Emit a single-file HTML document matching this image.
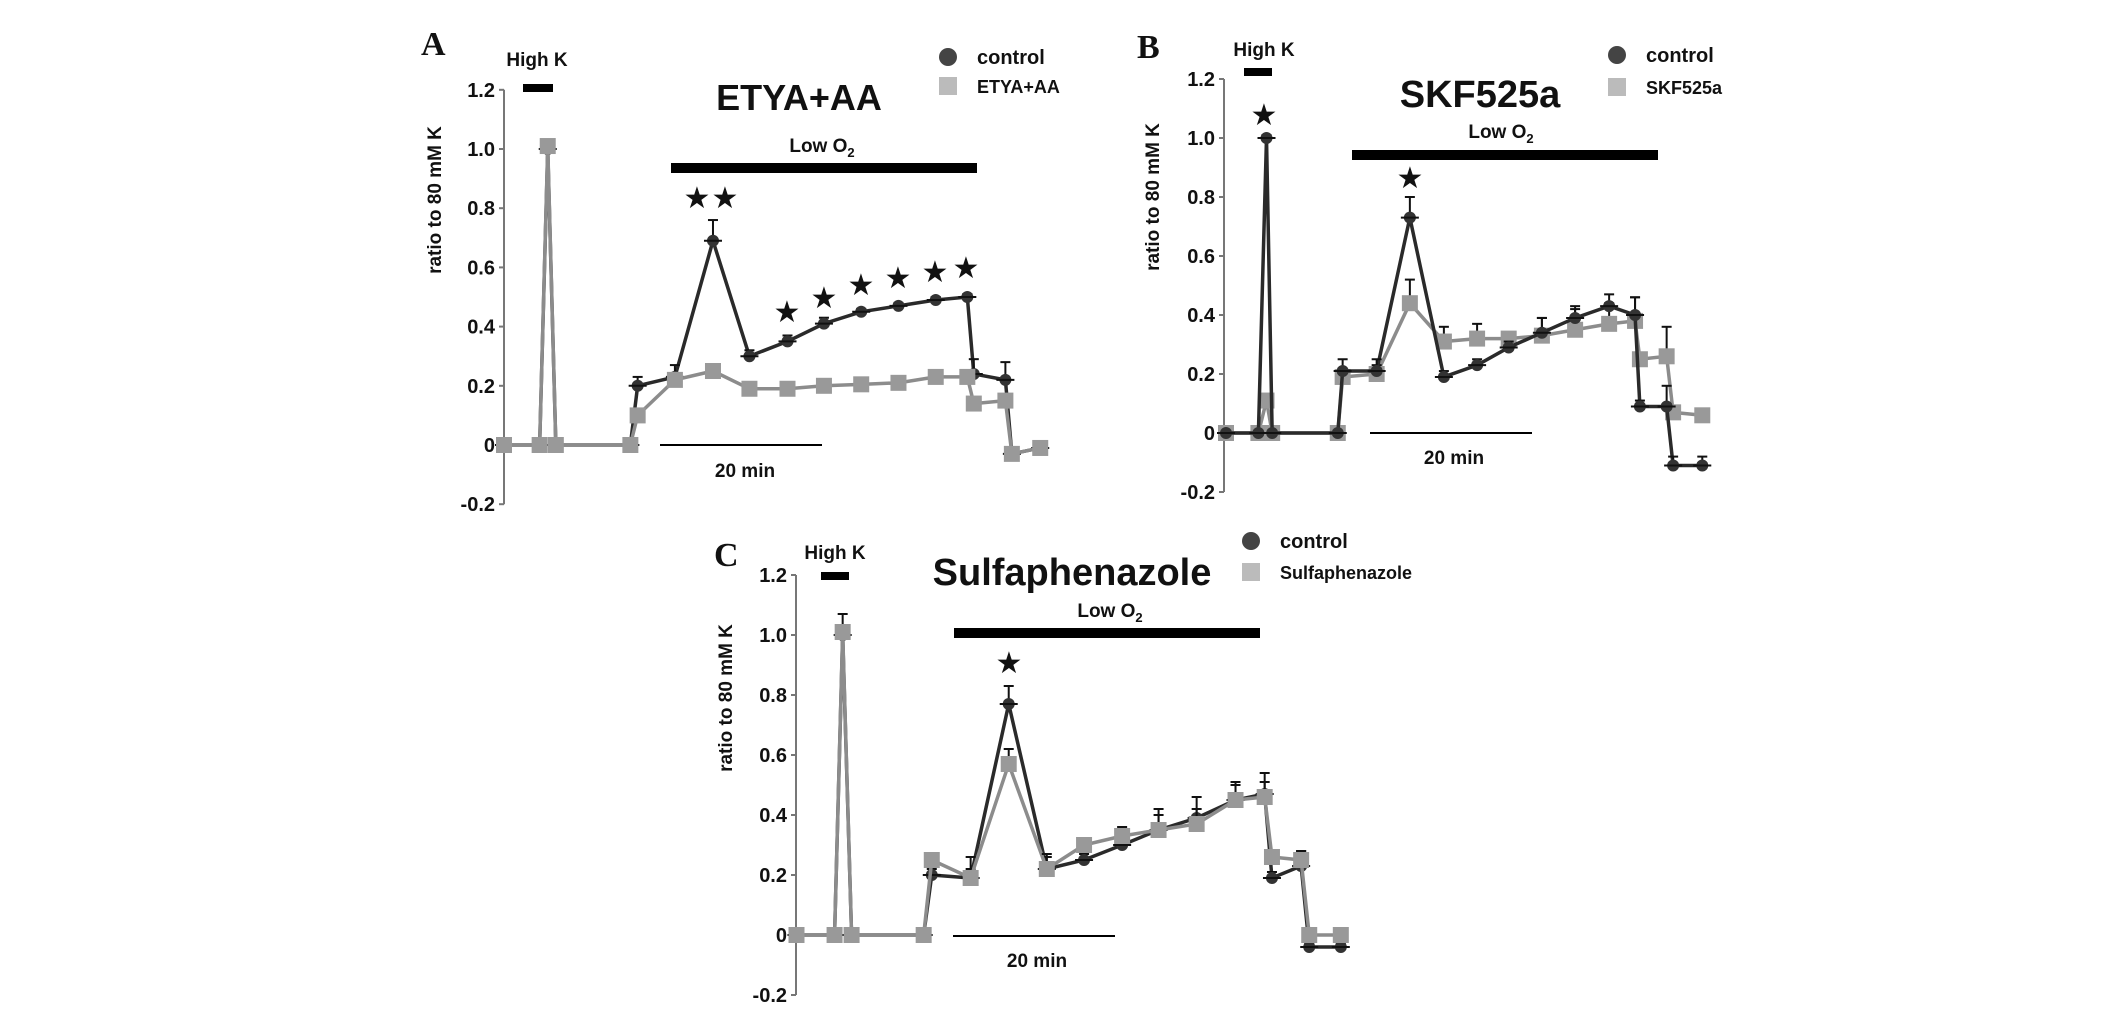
<!DOCTYPE html>
<html><head><meta charset="utf-8"><style>
html,body{margin:0;padding:0;background:#fff;overflow:hidden;}
svg{display:block;}
text{font-family:"Liberation Sans Narrow","Liberation Sans",sans-serif;font-weight:bold;fill:#111;}
</style></head><body>
<svg id="fig" width="2126" height="1010" viewBox="0 0 2126 1010" xmlns="http://www.w3.org/2000/svg"></svg>
<script>
const yTicks = [1.2, 1.0, 0.8, 0.6, 0.4, 0.2, 0, -0.2];
const yTickLabels = ["1.2","1.0","0.8","0.6","0.4","0.2","0","-0.2"];
const timeA = [0,4.4,5.4,6.4,15.6,16.5,21.1,25.8,30.3,35,39.5,44.1,48.7,53.3,57.2,58,61.9,62.7,66.2];
const controlA = [0,0,1.0,0,0,0.20,0.23,0.69,0.30,0.35,0.41,0.45,0.47,0.49,0.50,0.24,0.22,-0.03,-0.01];
const drugA = [0,0,1.01,0,0,0.10,0.22,0.25,0.19,0.19,0.20,0.205,0.21,0.23,0.23,0.14,0.15,-0.03,-0.01];
const errCtrlA = [0,0,0.02,0,0,0.03,0.04,0.07,0.02,0.02,0.02,0.01,0.01,0.01,0.01,0.05,0.06,0.01,0.02];
const timeB = [0,4,5,5.7,13.8,14.4,18.6,22.7,26.9,31,34.9,39,43.1,47.3,50.5,51.1,54.4,55.2,58.8];
const controlB = [0,0,1.0,0,0,0.21,0.21,0.73,0.19,0.23,0.29,0.34,0.39,0.43,0.40,0.09,0.09,-0.11,-0.11];
const drugB = [0,0,0.11,0,0,0.19,0.20,0.44,0.31,0.32,0.32,0.33,0.35,0.37,0.38,0.25,0.26,0.07,0.06];
const errCtrlB = [0,0,0.01,0,0,0.04,0.04,0.07,0.02,0.02,0.02,0.05,0.04,0.04,0.06,0.02,0.07,0.03,0.03];
const errDrugB = [0,0,0.02,0,0,0.02,0.03,0.08,0.05,0.05,0.02,0.06,0.07,0.07,0.08,0.02,0.1,0.01,0.01];
const timeC = [0,4.7,5.7,6.8,15.7,16.7,21.5,26.2,30.9,35.5,40.2,44.7,49.4,54.2,57.8,58.7,62.3,63.3,67.2];
const controlC = [0,0,1.0,0,0,0.20,0.19,0.77,0.22,0.25,0.30,0.35,0.39,0.45,0.47,0.19,0.23,-0.04,-0.04];
const drugC = [0,0,1.01,0,0,0.25,0.19,0.57,0.22,0.30,0.33,0.35,0.37,0.45,0.46,0.26,0.25,0.0,0.0];
const errCtrlC = [0,0,0.07,0,0,0.02,0.03,0.06,0.04,0.02,0.03,0.07,0.07,0.06,0.07,0.02,0.05,0.01,0.01];
const errDrugC = [0,0,0.02,0,0,0.02,0.07,0.05,0.05,0.02,0.03,0.05,0.05,0.05,0.05,0.02,0.03,0.01,0.01];

const NS="http://www.w3.org/2000/svg";
const svg=document.getElementById('fig');
function mk(tag,attrs,parent){const e=document.createElementNS(NS,tag);for(const k in attrs)e.setAttribute(k,attrs[k]);(parent||svg).appendChild(e);return e;}
function txt(str,attrs,parent){const e=mk('text',attrs,parent);e.textContent=str;return e;}

function panel(cfg){
  const g=mk('g',{});
  
  
  const y0=cfg.yZero, per=cfg.perUnit;
  const ys=v=>y0-v*per;
  const xs=t=>cfg.x0+t*8.1;
  const ax=mk('line',{x1:cfg.axisX,y1:ys(1.2),x2:cfg.axisX,y2:ys(-0.2),stroke:'#777','stroke-width':2},g);
  
  
  yTicks.forEach((v,i)=>{
    mk('line',{x1:cfg.axisX-5,y1:ys(v),x2:cfg.axisX,y2:ys(v),stroke:'#777','stroke-width':2},g);
    const t=txt(yTickLabels[i],{x:cfg.axisX-9,y:ys(v)+7,'text-anchor':'end','font-size':20},g);
    
    
  });
  const yl=txt('ratio to 80 mM  K',{x:0,y:0,'text-anchor':'middle','font-size':19,transform:`translate(${cfg.yLabel[0]},${cfg.yLabel[1]}) rotate(-90)`},g);
  
  
  const L=txt(cfg.letter,{x:cfg.letterPos[0],y:cfg.letterPos[1],'font-size':34,style:'font-family:"Liberation Serif",serif;font-weight:bold'},g);
  
  
  const hk=txt('High K',{x:cfg.highK[0],y:cfg.highK[1],'text-anchor':'middle','font-size':19},g);
  
  
  mk('rect',{x:cfg.hkBar[0],y:cfg.hkBar[2]-4,width:cfg.hkBar[1]-cfg.hkBar[0],height:8,fill:'#000'},g);
  const ti=txt(cfg.title,{x:cfg.titlePos[0],y:cfg.titlePos[1],'text-anchor':'middle','font-size':cfg.titleSize},g);
  
  
  const lo=mk('text',{x:cfg.lowO2[0],y:cfg.lowO2[1],'text-anchor':'middle','font-size':19},g);
  lo.innerHTML='Low O<tspan font-size="13" dy="5">2</tspan>';
  
  
  mk('rect',{x:cfg.o2Bar[0],y:cfg.o2Bar[2]-5,width:cfg.o2Bar[1]-cfg.o2Bar[0],height:10,fill:'#000'},g);
  mk('line',{x1:cfg.scale[0],y1:cfg.scale[2],x2:cfg.scale[1],y2:cfg.scale[2],stroke:'#000','stroke-width':2},g);
  const sm=txt('20 min',{x:cfg.scaleText[0],y:cfg.scaleText[1],'text-anchor':'middle','font-size':19},g);
  
  
  mk('circle',{cx:cfg.leg[0],cy:cfg.leg[1],r:9,fill:'#444'},g);
  const l1=txt('control',{x:cfg.leg[0]+29,y:cfg.leg[1]+7,'font-size':20},g);
  
  
  mk('rect',{x:cfg.leg[0]-9,y:cfg.leg[1]+cfg.legGap-9,width:18,height:18,fill:'#bbb'},g);
  const l2=txt(cfg.title,{x:cfg.leg[0]+29,y:cfg.leg[1]+cfg.legGap+7,'font-size':18},g);
  
  
  cfg.stars.forEach(s=>{
    const st=txt('★',{x:s[0],y:s[1]+10,'text-anchor':'middle','font-size':30,style:'font-family:"DejaVu Sans",sans-serif'},g);
    
    
  });
  function series(vals,errs,color,mcol,shape,name){
    const sg=mk('g',{},g);
    
    
    const pts=vals.map((v,i)=>xs(cfg.time[i])+','+ys(v)).join(' ');
    mk('polyline',{points:pts,fill:'none',stroke:color,'stroke-width':3.5},sg);
    vals.forEach((v,i)=>{
      const x=xs(cfg.time[i]),y=ys(v);
      if(errs&&errs[i]>0){
        mk('line',{x1:x,y1:y,x2:x,y2:ys(v+errs[i]),stroke:'#111','stroke-width':2},sg);
        mk('line',{x1:x-5,y1:ys(v+errs[i]),x2:x+5,y2:ys(v+errs[i]),stroke:'#111','stroke-width':2},sg);
      }
      if(shape==='c'){const m=mk('circle',{cx:x,cy:y,r:6,fill:mcol},sg);
        mk('line',{x1:x-9,y1:y,x2:x+9,y2:y,stroke:'#111','stroke-width':2},sg);}
      else {const m=mk('rect',{x:x-8,y:y-8,width:16,height:16,fill:mcol},sg);}
    });
  }
  if(cfg.drugFirst){series(cfg.drug,cfg.errD,'#8c8c8c','#999','s','drug-series');series(cfg.ctrl,cfg.errC,'#2a2a2a','#333','c','control-series');}
  else {series(cfg.ctrl,cfg.errC,'#2a2a2a','#333','c','control-series');series(cfg.drug,cfg.errD,'#8c8c8c','#999','s','drug-series');}
}

panel({letter:'A',axisX:504,yZero:445,perUnit:296,x0:504,time:timeA,ctrl:controlA,drug:drugA,errC:errCtrlA,errD:null,
  yLabel:[441,200],letterPos:[421,55],highK:[537,66],hkBar:[523,553,88],title:'ETYA+AA',titleSize:36,titlePos:[799,110],
  lowO2:[822,152],o2Bar:[671,977,168],scale:[660,822,445],scaleText:[745,477],leg:[948,57],legGap:29,
  stars:[[697,198],[725,198],[787,312],[824,298],[861,285],[898,278],[935,272],[966,268]]});
panel({letter:'B',axisX:1224,yZero:433,perUnit:295,x0:1226,time:timeB,ctrl:controlB,drug:drugB,errC:errCtrlB,errD:errDrugB,drugFirst:true,
  yLabel:[1159,197],letterPos:[1137,58],highK:[1264,56],hkBar:[1244,1272,72],title:'SKF525a',titleSize:38,titlePos:[1480,107],
  lowO2:[1501,138],o2Bar:[1352,1658,155],scale:[1370,1532,433],scaleText:[1454,464],leg:[1617,55],legGap:32,
  stars:[[1264,115],[1410,178]]});
panel({letter:'C',axisX:796,yZero:935,perUnit:300,x0:796.5,time:timeC,ctrl:controlC,drug:drugC,errC:errCtrlC,errD:errDrugC,
  yLabel:[732,698],letterPos:[714,566],highK:[835,559],hkBar:[821,849,576],title:'Sulfaphenazole',titleSize:38,titlePos:[1072,585],
  lowO2:[1110,617],o2Bar:[954,1260,633],scale:[953,1115,936],scaleText:[1037,967],leg:[1251,541],legGap:31,
  stars:[[1009,663]]});
</script>
</body></html>
